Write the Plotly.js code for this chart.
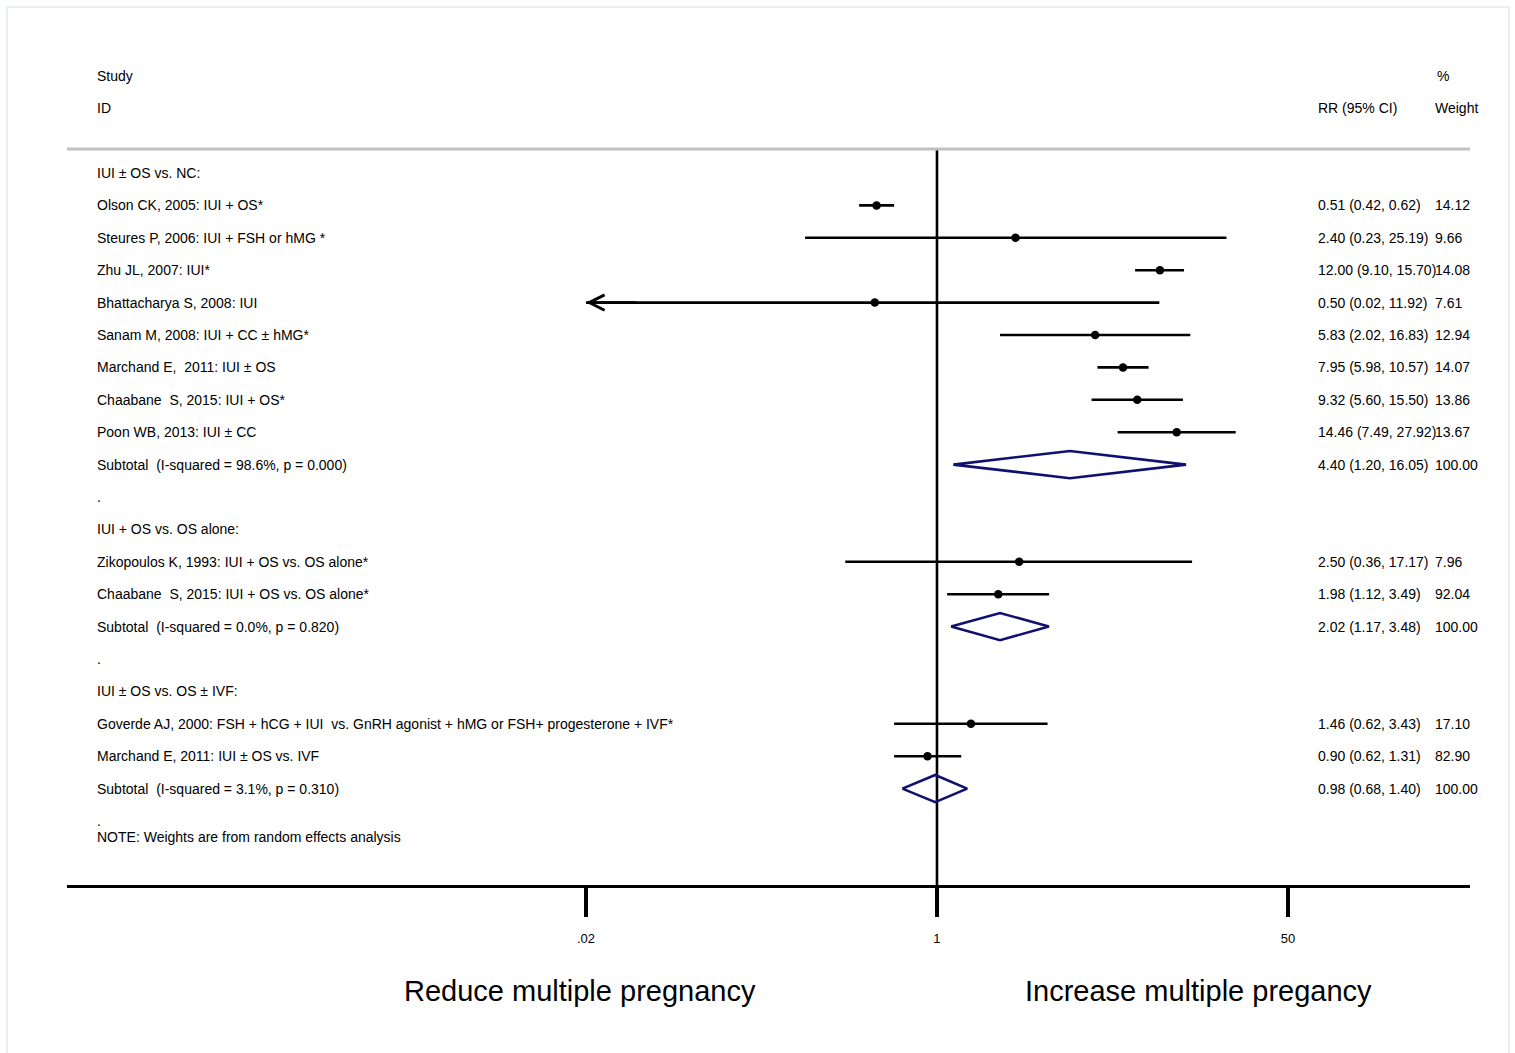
<!DOCTYPE html>
<html>
<head>
<meta charset="utf-8">
<script src="https://cdn.plot.ly/plotly-3.0.1.min.js"></script>
<style>
  html, body { margin: 0; padding: 0; background: #ffffff; }
  #chart { width: 1515px; height: 1053px; }
</style>
</head>
<body>
<div id="chart"></div>
<script>
// ---- Individual studies -------------------------------------------------
const studyNames = [
  "Olson CK, 2005: IUI + OS*",
  "Steures P, 2006: IUI + FSH or hMG *",
  "Zhu JL, 2007: IUI*",
  "Bhattacharya S, 2008: IUI",
  "Sanam M, 2008: IUI + CC ± hMG*",
  "Marchand E,\u00a0\u00a02011: IUI ± OS",
  "Chaabane\u00a0\u00a0S, 2015: IUI + OS*",
  "Poon WB, 2013: IUI ± CC",
  "Zikopoulos K, 1993: IUI + OS vs. OS alone*",
  "Chaabane\u00a0\u00a0S, 2015: IUI + OS vs. OS alone*",
  "Goverde AJ, 2000: FSH + hCG + IUI\u00a0\u00a0vs. GnRH agonist + hMG or FSH+ progesterone + IVF*",
  "Marchand E, 2011: IUI ± OS vs. IVF"
];
const studyRows   = [1, 2, 3, 4, 5, 6, 7, 8, 12, 13, 17, 18];
const studyRR     = [0.51, 2.40, 12.00, 0.50, 5.83, 7.95, 9.32, 14.46, 2.50, 1.98, 1.46, 0.90];
const studyLo     = [0.42, 0.23, 9.10, 0.02, 2.02, 5.98, 5.60, 7.49, 0.36, 1.12, 0.62, 0.62];
const studyHi     = [0.62, 25.19, 15.70, 11.92, 16.83, 10.57, 15.50, 27.92, 17.17, 3.49, 3.43, 1.31];
const studyWeight = ["14.12", "9.66", "14.08", "7.61", "12.94", "14.07", "13.86", "13.67", "7.96", "92.04", "17.10", "82.90"];

// ---- Subgroups ------------------------------------------------------------
const groupNames = ["IUI ± OS vs. NC:", "IUI + OS vs. OS alone:", "IUI ± OS vs. OS ± IVF:"];
const groupRows  = [0, 11, 16];
const subtotalNames = [
  "Subtotal\u00a0\u00a0(I-squared = 98.6%, p = 0.000)",
  "Subtotal\u00a0\u00a0(I-squared = 0.0%, p = 0.820)",
  "Subtotal\u00a0\u00a0(I-squared = 3.1%, p = 0.310)"
];
const subtotalRows   = [9, 14, 19];
const subtotalRR     = [4.40, 2.02, 0.98];
const subtotalLo     = [1.20, 1.17, 0.68];
const subtotalHi     = [16.05, 3.48, 1.40];
const subtotalWeight = ["100.00", "100.00", "100.00"];
const spacerRows = [10, 15, 20];

// ---- Axis ----------------------------------------------------------------
const tickVals  = [0.02, 1, 50];
const tickText  = [".02", "1", "50"];
const noteText  = "NOTE: Weights are from random effects analysis";
const noteRow   = 20.5;
const leftLabel  = "Reduce multiple pregnancy";
const rightLabel = "Increase multiple pregancy";

// ---- Layout constants ----------------------------------------------------
const FONT = "Liberation Sans, Arial, Helvetica, sans-serif";
const W = 1515, H = 1053;
const M = { l: 67, r: 45, t: 50, b: 168 };
const rowPx = 32.4;           // pixel height of one row
const firstRowPx = 173;       // pixel centre of row 0
const plotH = H - M.t - M.b;
const yTop = (M.t - firstRowPx) / rowPx;
const yBot = (M.t + plotH - firstRowPx) / rowPx;
const headerLineRow = (149 - firstRowPx) / rowPx;
const xRange = [-4.211, 2.580];   // log10 units
const plotW = W - M.l - M.r;
const px2paper = p => (p - M.l) / plotW;
const colLeft = px2paper(97), colRR = px2paper(1318), colW = px2paper(1435);
const diamondHalf = 0.42;
const fmt = v => v.toFixed(2);
const ciText = (r, lo, hi) => `${fmt(r)} (${fmt(lo)}, ${fmt(hi)})`;

const traces = [];
const annotations = [];

// Reference line at RR = 1
traces.push({
  x: [1, 1], y: [headerLineRow, yBot],
  mode: "lines", line: { color: "#000000", width: 2.6 },
  hoverinfo: "skip", showlegend: false
});

// Confidence intervals
const ciX = [], ciY = [];
studyRows.forEach((row, i) => {
  const lo = Math.max(studyLo[i], tickVals[0]);
  ciX.push(lo, studyHi[i], null);
  ciY.push(row, row, null);
  if (studyLo[i] <= tickVals[0]) {
    // interval runs past the left end of the scale: arrowhead
    annotations.push({
      x: Math.log10(tickVals[0]), y: row, xref: "x", yref: "y",
      ax: Math.log10(tickVals[0]) + 0.25, ay: row, axref: "x", ayref: "y",
      text: "", showarrow: true, arrowhead: 5, arrowsize: 1.2,
      arrowwidth: 2.5, arrowcolor: "#000000", standoff: 0
    });
  }
});
traces.push({
  x: ciX, y: ciY, mode: "lines",
  line: { color: "#000000", width: 2.6 },
  hoverinfo: "skip", showlegend: false
});

// Point estimates
traces.push({
  x: studyRR, y: studyRows, mode: "markers",
  marker: { color: "#000000", size: 8.5, line: { width: 0 } },
  hoverinfo: "x+y", showlegend: false
});

// Pooled estimates as diamonds
const dX = [], dY = [];
subtotalRows.forEach((row, i) => {
  dX.push(subtotalLo[i], subtotalRR[i], subtotalHi[i], subtotalRR[i], subtotalLo[i], null);
  dY.push(row, row - diamondHalf, row, row + diamondHalf, row, null);
});
traces.push({
  x: dX, y: dY, mode: "lines",
  line: { color: "#10106e", width: 2.6 },
  hoverinfo: "skip", showlegend: false
});

// Text columns
function addText(text, xPaper, row, extra) {
  annotations.push(Object.assign({
    text: text, x: xPaper, y: row, xref: "paper", yref: "y",
    xanchor: "left", yanchor: "middle", showarrow: false,
    borderpad: 0, borderwidth: 0,
    font: { family: FONT, size: 14, color: "#000000" }
  }, extra || {}));
}
addText("Study", colLeft, -3);
addText("ID", colLeft, -2);
addText("RR (95% CI)", colRR, -2);
addText("%", px2paper(1437), -3);
addText("Weight", colW, -2);

groupNames.forEach((g, i) => addText(g, colLeft, groupRows[i]));
studyNames.forEach((s, i) => {
  addText(s, colLeft, studyRows[i]);
  addText(ciText(studyRR[i], studyLo[i], studyHi[i]), colRR, studyRows[i]);
  addText(studyWeight[i], colW, studyRows[i]);
});
subtotalNames.forEach((s, i) => {
  addText(s, colLeft, subtotalRows[i]);
  addText(ciText(subtotalRR[i], subtotalLo[i], subtotalHi[i]), colRR, subtotalRows[i]);
  addText(subtotalWeight[i], colW, subtotalRows[i]);
});
spacerRows.forEach(r => addText(".", colLeft, r));
addText(noteText, colLeft, noteRow);

// Direction labels under the axis
const dirY = (M.t + plotH - 991) / plotH;
[[leftLabel, 580], [rightLabel, 1198.5]].forEach(([t, px]) => {
  annotations.push({
    text: t, x: px2paper(px), y: 1 + (M.t - 991) / plotH - 0 * dirY,
    xref: "paper", yref: "paper", xanchor: "center", yanchor: "middle",
    showarrow: false, font: { family: FONT, size: 29, color: "#000000" }
  });
});

const layout = {
  width: W, height: H,
  margin: M,
  paper_bgcolor: "#ffffff", plot_bgcolor: "#ffffff",
  font: { family: FONT, size: 14, color: "#000000" },
  showlegend: false,
  xaxis: {
    type: "log", range: xRange,
    tickvals: tickVals, ticktext: tickText,
    showgrid: false, zeroline: false,
    showline: true, linecolor: "#000000", linewidth: 3,
    ticks: "outside", ticklen: 29, tickwidth: 4, tickcolor: "#000000",
    ticklabelstandoff: 10,
    tickfont: { family: FONT, size: 13, color: "#000000" },
    fixedrange: true
  },
  yaxis: {
    range: [yBot, yTop], visible: false, showgrid: false,
    zeroline: false, fixedrange: true
  },
  shapes: [
    { type: "line", xref: "paper", yref: "y", x0: 0, x1: 1,
      y0: headerLineRow, y1: headerLineRow,
      line: { color: "#c0c0c0", width: 3 } },
    { type: "rect", xref: "paper", yref: "paper",
      x0: px2paper(7), x1: px2paper(1509),
      y0: (M.t + plotH - 1070) / plotH, y1: (M.t + plotH - 7) / plotH,
      line: { color: "#e6eff1", width: 2 }, layer: "below" }
  ],
  annotations: annotations
};

Plotly.newPlot("chart", traces, layout, { staticPlot: true, displayModeBar: false });
</script>
</body>
</html>
